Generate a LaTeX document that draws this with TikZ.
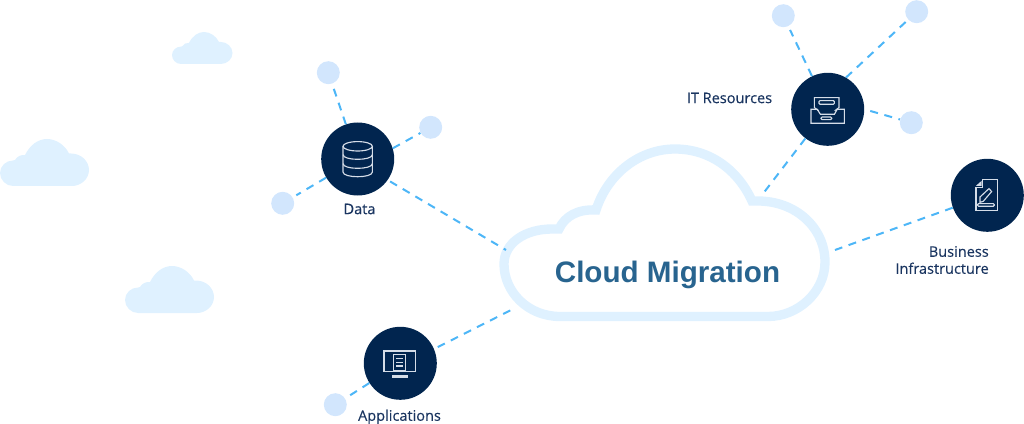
\documentclass[tikz,border=0pt]{standalone}
\usepackage{fontspec}
\setmainfont{Liberation Sans}
\newfontfamily\lblfont[FakeBold=0.25]{Open Sans}
\definecolor{navy}{HTML}{01254F}
\definecolor{labelnavy}{HTML}{1A3560}
\definecolor{dashblue}{HTML}{4DB6F7}
\definecolor{dotblue}{HTML}{D2E6FD}
\definecolor{cloudblue}{HTML}{DFF1FF}
\definecolor{titleblue}{HTML}{28648F}
\definecolor{iconline}{HTML}{D5DDE8}
\tikzset{
  hub/.style={circle,fill=navy,minimum size=54.75pt,inner sep=0pt},
  dot/.style={circle,fill=dotblue,minimum size=17.25pt,inner sep=0pt},
  link/.style={draw=dashblue,line width=1.5pt,dash pattern=on 6pt off 5pt},
  lbl/.style={text=labelnavy,font=\lblfont\fontsize{10.9}{12.75}\selectfont,align=center,inner sep=0pt},
  ico/.style={draw=iconline,line width=0.85pt,line join=miter},
  smallcloud/.style={fill=cloudblue}
}
\newcommand{\cloudshape}{(13,47) .. controls (6,47) and (0,41) .. (0,34) .. controls (0,27) and (6,21.5) .. (13,21.5) -- (15,21)
 .. controls (17,17.5) and (21,15.5) .. (25,16) .. controls (30,6) and (38,0) .. (47,0) .. controls (56,0) and (65,6) .. (69,14.5)
 -- (71,14.5) .. controls (81,14.5) and (89,22) .. (89,31) .. controls (89,40) and (81,47) .. (72,47) -- cycle}
\begin{document}
\begin{tikzpicture}[x=0.75pt,y=-0.75pt]
\useasboundingbox (0,0) rectangle (1024,424);
% background clouds
\fill[smallcloud,shift={(172,32)},x=0.51pt,y=-0.51pt] \cloudshape;
\fill[smallcloud,shift={(0,139)}] \cloudshape;
\fill[smallcloud,shift={(125,266)}] \cloudshape;
% main cloud
\draw[draw=cloudblue,line width=7pt,fill=white,line join=miter]
 (560,316.5) .. controls (528,316.5) and (504,292) .. (504,264)
 .. controls (504,243) and (525,229) .. (552,229) -- (559,229)
 .. controls (565,216) and (578,209) .. (596,210)
 .. controls (608,173) and (640,149) .. (675,149)
 .. controls (710,149) and (738,170) .. (752,201) -- (758,201)
 .. controls (796,201) and (825,228) .. (825,262)
 .. controls (825,292) and (798,316.5) .. (768,316.5) -- cycle;
\node[inner sep=0pt,text=titleblue,font=\fontsize{22.2}{26}\bfseries\selectfont] (title) at (667.5,274.5) {Cloud Migration};
% hubs
\node[hub] (data) at (357.7,159) {};
\node[hub] (it) at (827.7,109.3) {};
\node[hub] (biz) at (987.3,195.3) {};
\node[hub] (apps) at (400.3,363.3) {};
% dots
\node[dot] (d1) at (328.3,72.7) {};
\node[dot] (d2) at (430.7,127.3) {};
\node[dot] (d3) at (282.7,203.3) {};
\node[dot] (i1) at (783.3,15.7) {};
\node[dot] (i2) at (916.7,11.7) {};
\node[dot] (i3) at (911.3,122.7) {};
\node[dot] (a1) at (335.3,404.7) {};
% cloud attachment points
\coordinate (cA) at (506,250);
\coordinate (cB) at (515,308);
\coordinate (cC) at (762,195);
\coordinate (cD) at (835,250);
% connectors
\draw[link,shorten >=3pt] (data) -- (d1);
\draw[link] (data.17) -- (d2);
\draw[link,shorten >=3pt] (data) -- (d3);
\draw[link,shorten <=2pt] (data.-35) -- (cA);
\draw[link,shorten >=3pt] (it) -- (i1);
\draw[link] (it.60) -- (i2);
\draw[link,shorten <=4.5pt] (it.east) -- (i3);
\draw[link] (it) -- (cC);
\draw[link] (biz) -- (cD);
\draw[link,shorten <=3pt] (apps.23) -- (cB);
\draw[link,shorten >=3pt] (apps) -- (a1);
% labels
\node[lbl] (ldata) at (359.5,209) {Data};
\node[lbl] (lit) at (729.5,98) {IT Resources};
\node[lbl,align=right,anchor=east] (lbiz) at (989,260) {Business\\Infrastructure};
\node[lbl] (lapps) at (399.5,417) {Applications};
% data icon
\begin{scope}[shift={(data)}]
 \draw[ico] (0,-12.7) ellipse [x radius=14.7,y radius=4.7];
 \draw[ico] (-14.7,-12.7) -- (-14.7,13) .. controls (-14.7,19.3) and (14.7,19.3) .. (14.7,13) -- (14.7,-12.7);
 \draw[ico] (-14.7,-4.4) .. controls (-14.7,1.9) and (14.7,1.9) .. (14.7,-4.4);
 \draw[ico] (-14.7,4.6) .. controls (-14.7,10.9) and (14.7,10.9) .. (14.7,4.6);
\end{scope}
% IT icon
\begin{scope}[shift={(it)}]
 \draw[ico] (-9,1.5) -- (-13.3,-1.7) -- (-13.3,-11.7) -- (11.3,-11.7) -- (11.3,-1.7) -- (7,1.5);
 \draw[ico] (-16.7,0) -- (-10.5,0) -- (-7.3,5) -- (6.7,5) -- (9.5,0) -- (16.7,0) -- (16.7,14) -- (-16.7,14) -- cycle;
 \draw[ico,rounded corners=0.8pt] (-8.7,-8.7) rectangle (6.7,-5);
 \draw[ico,rounded corners=0.8pt] (-6.7,7.7) rectangle (4,10.3);
\end{scope}
% business icon
\begin{scope}[shift={(biz)}]
 \draw[ico] (-4.5,-15.7) -- (10,-15.7) -- (10,15) -- (-11.3,15) -- (-11.3,-7.5) -- (-4.5,-7.5) -- cycle;
 \fill[iconline] (-5.7,-14.5) -- (-5.7,-9.5) -- (-11.3,-9.5) -- cycle;
 \draw[ico] (-7.3,7) -- (-7.3,1.7) -- (1.7,-6.7) -- (4.3,-3.7) -- (-4,6) -- cycle;
 \draw[ico,rounded corners=0.8pt] (-9.7,8.3) rectangle (7,11);
\end{scope}
% apps icon
\begin{scope}[shift={(apps)}]
 \draw[ico] (-16.3,-12.3) rectangle (15,8.3);
 \draw[ico] (-6.7,-9) rectangle (5,7);
 \draw[ico,line width=1.1pt] (-4,-5) -- (2.7,-5) (-4,-1) -- (2.7,-1) (-4,2.7) -- (2.7,2.7);
 \draw[ico,line width=2pt] (-8.3,13) -- (7.7,13);
\end{scope}
\end{tikzpicture}
\end{document}
